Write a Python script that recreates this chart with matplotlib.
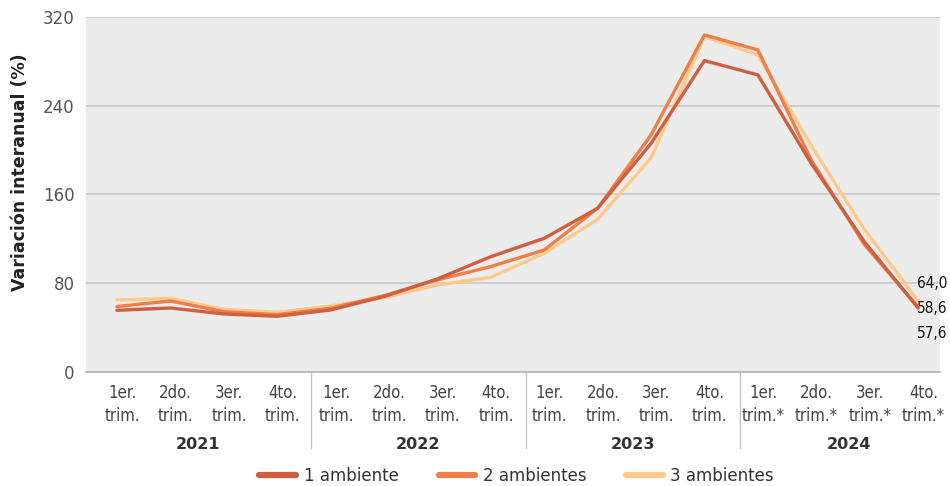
import matplotlib
matplotlib.use("Agg")
import matplotlib.pyplot as plt
from matplotlib import font_manager
from matplotlib.font_manager import FontProperties
from matplotlib.lines import Line2D
import matplotlib.transforms as mtransforms

# Datos (variación interanual, %)
years = ["2021", "2022", "2023", "2024"]
quarters = ["1er.\ntrim.", "2do.\ntrim.", "3er.\ntrim.", "4to.\ntrim."]
quarters_24 = ["1er.\ntrim.*", "2do.\ntrim.*", "3er.\ntrim.*", "4to.\ntrim.*"]
amb1 = [55.6, 57.7, 52.3, 50.2, 55.9, 68.0, 83.9, 104.0, 120.5, 147.6, 206.0, 280.7, 267.8, 188.0, 117.0, 57.6]
amb2 = [59.0, 64.0, 54.4, 51.7, 57.4, 68.8, 83.0, 95.0, 110.0, 147.6, 213.7, 303.9, 290.3, 191.0, 114.5, 58.6]
amb3 = [65.0, 66.4, 56.5, 53.8, 59.5, 67.0, 78.4, 85.4, 107.0, 137.7, 193.0, 302.4, 285.8, 204.0, 128.0, 64.0]
series_names = ["1 ambiente", "2 ambientes", "3 ambientes"]
end_labels = ["64,0", "58,6", "57,6"]

colors = ["#cf5f3f", "#ef7f48", "#fdca8c"]

# fuente condensada si existe
cond_path = None
for f in font_manager.fontManager.ttflist:
    if f.fname.endswith("DejaVuSansCondensed.ttf"):
        cond_path = f.fname
        break
if cond_path is None:
    for f in font_manager.findSystemFonts():
        if f.endswith("DejaVuSansCondensed.ttf"):
            cond_path = f
            break


def narrow(size):
    if cond_path:
        return FontProperties(fname=cond_path, size=size)
    return FontProperties(family="DejaVu Sans", stretch="condensed", size=size)


fig = plt.figure(figsize=(9.5, 4.86), dpi=100)
ax = fig.add_axes([0.0905, 0.2346, 0.899, 0.7304])
ax.set_facecolor("#ececec")

x = list(range(len(amb1)))
ax.plot(x, amb3, color=colors[2], lw=2.4, zorder=3, solid_capstyle="round")
ax.plot(x, amb2, color=colors[1], lw=2.4, zorder=4, solid_capstyle="round")
ax.plot(x, amb1, color=colors[0], lw=2.4, zorder=5, solid_capstyle="round")

ax.set_xlim(-0.58, 15.41)
ax.set_ylim(0, 320)
ax.set_yticks([0, 80, 160, 240, 320])
ax.grid(axis="y", color="#c9c9c9", lw=1.2)
ax.set_axisbelow(True)
for s in ["top", "right", "left"]:
    ax.spines[s].set_visible(False)
ax.spines["bottom"].set_color("#b5b5b5")
ax.spines["bottom"].set_linewidth(1.2)
ax.tick_params(axis="y", length=0, pad=8, labelsize=12, labelcolor="#555555")

# etiquetas de trimestres
ax.set_xticks([i + 0.1 for i in x])
ax.set_xticklabels(quarters * 3 + quarters_24, color="#444444", linespacing=1.35)
for t in ax.get_xticklabels():
    t.set_fontproperties(narrow(12))
ax.tick_params(axis="x", length=0, pad=9)

# separadores de años y etiquetas de años
trans = mtransforms.blended_transform_factory(ax.transData, ax.transAxes)
bounds = [-0.58, 3.63, 7.66, 11.67, 15.75]
for b in bounds[1:-1]:
    ax.plot([b, b], [0, -0.215], transform=trans, color="#c4c4c4", lw=1, clip_on=False)
for i, yr in enumerate(years):
    ax.text((bounds[i] + bounds[i + 1]) / 2, -0.205, yr, transform=trans,
            ha="center", va="center", fontsize=11.5, fontweight="bold", color="#333333")

# valores finales
last = len(amb1) - 1
for lab, dy in zip(end_labels, [17, -1, -19]):
    ax.annotate(lab, xy=(last, amb2[-1]), xytext=(-0.5, dy), textcoords="offset points",
                ha="left", va="center", fontproperties=narrow(11),
                color="#111111", annotation_clip=False)

fig.text(0.021, 0.646, "Variación interanual (%)", rotation=90, ha="center", va="center",
         fontsize=12.5, fontweight="bold", color="#222222")

handles = [Line2D([0], [0], color=c, lw=4.5, solid_capstyle="round") for c in colors]
fig.legend(handles, series_names, loc="center", bbox_to_anchor=(0.544, 0.021), ncol=3,
           frameon=False, fontsize=12, handlelength=2.2, handletextpad=0.45,
           columnspacing=2.4, labelcolor="#333333")

fig.savefig("out.png", dpi=100)
